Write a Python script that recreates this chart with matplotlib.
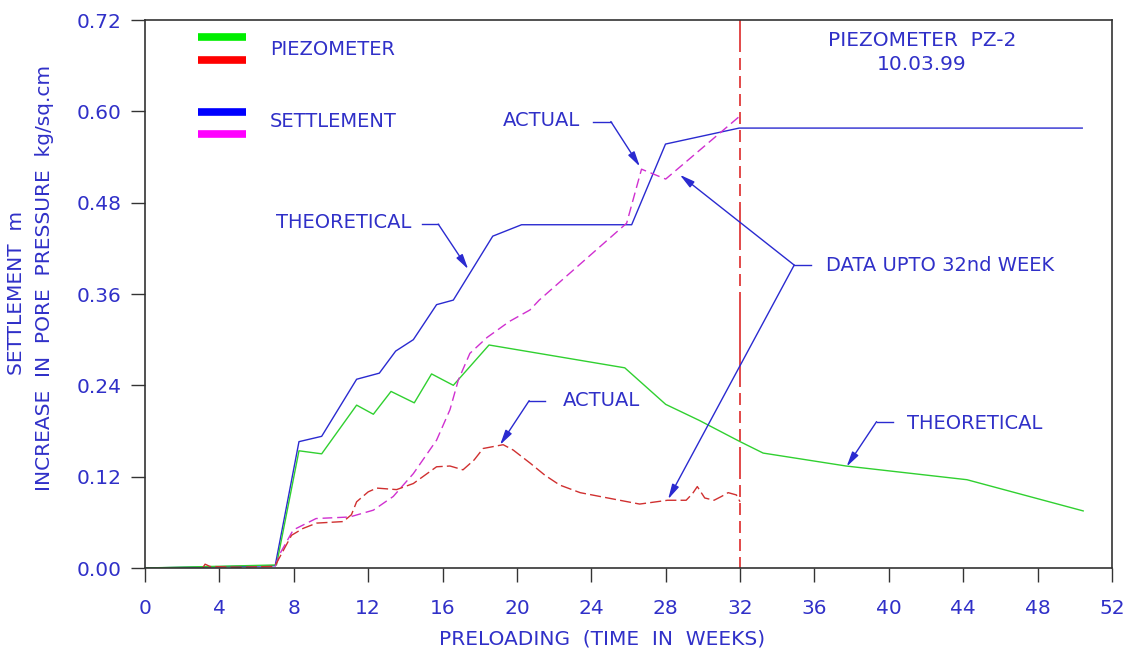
import matplotlib
matplotlib.use("Agg")
import matplotlib.pyplot as plt

# ---------------- data ----------------
theo_settle_wk = [0, 7.0, 8.28, 9.5, 11.38, 12.6, 13.48, 14.43, 15.68, 16.58, 18.7, 20.25, 26.17, 27.99, 31.95, 50.4]
theo_settle_v = [0, 0.003, 0.166, 0.173, 0.248, 0.256, 0.285, 0.300, 0.346, 0.352, 0.436, 0.451, 0.451, 0.557, 0.578, 0.578]

theo_piezo_wk = [0, 7.07, 8.28, 9.5, 11.38, 12.28, 13.23, 14.48, 15.41, 16.58, 18.5, 25.8, 28.0, 29.8, 32.0, 33.24, 37.7, 44.2, 50.45]
theo_piezo_v = [0, 0.004, 0.154, 0.150, 0.214, 0.202, 0.232, 0.217, 0.255, 0.240, 0.293, 0.263, 0.215, 0.194, 0.166, 0.151, 0.134, 0.116, 0.075]

act_settle_wk = [7.0, 7.26, 7.97, 9.2, 11.0, 12.28, 13.35, 14.43, 15.68, 16.4, 16.85, 17.47, 18.4, 19.6, 20.7, 21.2, 25.9, 26.7, 28.0, 31.95]
act_settle_v = [0.002, 0.019, 0.050, 0.065, 0.067, 0.076, 0.094, 0.124, 0.168, 0.208, 0.247, 0.282, 0.303, 0.324, 0.339, 0.352, 0.453, 0.524, 0.511, 0.593]

act_piezo_wk = [3.1, 3.23, 3.5, 5.0, 6.8, 7.0, 7.26, 7.88, 8.5, 9.23, 10.66, 11.1, 11.38, 12.0, 12.46, 13.53,
                14.43, 15.68, 16.4, 17.1, 17.7, 18.18, 19.26, 19.8, 20.7, 21.5, 22.3, 23.4, 24.46, 26.6, 28.1,
                29.1, 29.45, 29.7, 30.1, 30.6, 31.0, 31.36, 31.8, 32.0]
act_piezo_v = [0.0, 0.005, 0.002, 0.001, 0.002, 0.003, 0.015, 0.043, 0.052, 0.059, 0.061, 0.070, 0.087, 0.100, 0.105, 0.103,
               0.111, 0.133, 0.134, 0.129, 0.142, 0.157, 0.162, 0.155, 0.138, 0.122, 0.109, 0.099, 0.094, 0.084, 0.089,
               0.089, 0.098, 0.107, 0.092, 0.089, 0.094, 0.099, 0.096, 0.087]

cutoff_week = 32
x_ticks = list(range(0, 53, 4))
y_ticks = [0.00, 0.12, 0.24, 0.36, 0.48, 0.60, 0.72]

# annotations: (text, text_x, text_y, ha, leader_start, bend, tip)
annotations = [
    ("ACTUAL", 23.39, 0.5875, "right", (24.09, 0.5866), (25.05, 0.5866), (26.61, 0.5275)),
    ("THEORETICAL", 14.34, 0.4541, "right", (14.88, 0.4518), (15.77, 0.4518), (17.38, 0.3926)),
    ("ACTUAL", 22.49, 0.2202, "left", (21.5, 0.2199), (20.66, 0.2199), (19.09, 0.1617)),
    ("THEORETICAL", 40.98, 0.1893, "left", (40.2, 0.1923), (39.34, 0.1923), (37.73, 0.1332)),
]
data_note = ("DATA UPTO 32nd WEEK", 36.6, 0.398)
data_note_bend = (34.91, 0.398)
data_note_end = (35.8, 0.398)
data_note_tips = [(28.76, 0.5166), (28.13, 0.0903)]

# ---------------- style ----------------
plt.rcParams['lines.scale_dashes'] = False
TXT = '#3030c8'
BLUE = '#2a2ad0'
GREEN = '#30d030'
RED = '#d03030'
MAG = '#d030d0'
FS = 14

W, H = 1127, 652
fig = plt.figure(figsize=(W / 100, H / 100), dpi=100)
ax = fig.add_axes([145 / W, 1 - 568 / H, (1112 - 145) / W, (568 - 20) / H])

ax.plot(theo_settle_wk, theo_settle_v, color=BLUE, lw=1.0)
ax.plot(theo_piezo_wk, theo_piezo_v, color=GREEN, lw=1.0)
ax.plot(act_settle_wk, act_settle_v, color=MAG, lw=1.0, dashes=(7, 3.5))
ax.plot(act_piezo_wk, act_piezo_v, color=RED, lw=1.0, dashes=(8, 3))

# vertical cut-off line (CAD style dash pattern, in px converted to pt)
pat_px = [32]
pat_px += [6, 12] * 8 + [6, 48]
pat_px += [6, 12] * 2 + [6, 95]
pat_px += [6, 12] * 4 + [6, 28]
pat_px += [6, 12] * 4 + [6, 200]
ax.plot([cutoff_week, cutoff_week], [0.72, 0.0], color='#dd2a2a', lw=1.2,
        dashes=[p * 0.72 for p in pat_px])

# annotations
for text, tx, ty, ha, p0, p1, tip in annotations:
    ax.text(tx, ty, text, color=TXT, fontsize=FS, ha=ha, va='center')
    ax.plot([p0[0], p1[0]], [p0[1], p1[1]], color=BLUE, lw=1.0)
    ax.annotate('', xy=tip, xytext=p1,
                arrowprops=dict(arrowstyle='-|>,head_length=0.9,head_width=0.22',
                                color=BLUE, lw=1.0, shrinkA=0, shrinkB=0))

ax.text(data_note[1], data_note[2], data_note[0], color=TXT, fontsize=FS, ha='left', va='center')
ax.plot([data_note_bend[0], data_note_end[0]], [data_note_bend[1], data_note_end[1]], color=BLUE, lw=1.0)
for tip in data_note_tips:
    ax.annotate('', xy=tip, xytext=data_note_bend,
                arrowprops=dict(arrowstyle='-|>,head_length=0.9,head_width=0.22',
                                color=BLUE, lw=1.0, shrinkA=0, shrinkB=0))

# legend (drawn manually)
leg = [(0.9684, '#00ee00'), (0.927, '#ff0000'), (0.8327, '#0000ff'), (0.792, '#ff00ff')]
for yy, c in leg:
    ax.plot([0.0548, 0.1044], [yy, yy], transform=ax.transAxes, color=c, lw=5.5, solid_capstyle='butt')
ax.text(0.1293, 0.947, 'PIEZOMETER', transform=ax.transAxes, color=TXT, fontsize=FS, va='center')
ax.text(0.1293, 0.8144, 'SETTLEMENT', transform=ax.transAxes, color=TXT, fontsize=FS, va='center')

ax.text(0.8035, 0.9617, 'PIEZOMETER  PZ-2', transform=ax.transAxes, color=TXT, fontsize=14.5,
        ha='center', va='center')
ax.text(0.8035, 0.9197, '10.03.99', transform=ax.transAxes, color=TXT, fontsize=14.5,
        ha='center', va='center')

# axes
ax.set_xlim(0, 52)
ax.set_ylim(0, 0.72)
ax.set_xticks(x_ticks)
ax.set_xticklabels([str(t) for t in x_ticks])
ax.set_yticks(y_ticks)
ax.set_yticklabels([f"{t:.2f}" for t in y_ticks])
ax.tick_params(axis='x', direction='out', length=10, width=1.0, color='#333333',
               labelsize=14.5, labelcolor=TXT, pad=12)
ax.tick_params(axis='y', direction='out', length=10, width=1.0, color='#333333',
               labelsize=14.5, labelcolor=TXT, pad=7)
for s in ax.spines.values():
    s.set_color('#333333')
    s.set_linewidth(1.2)

fig.text(320 / W + 0.25, 1 - 639 / H, 'PRELOADING  (TIME  IN  WEEKS)', color=TXT, fontsize=14.5,
         ha='center', va='center')
fig.text(17 / W, 1 - 293 / H, 'SETTLEMENT  m', color=TXT, fontsize=14.5, rotation=90,
         ha='center', va='center')
fig.text(45 / W, 1 - 278 / H, 'INCREASE  IN  PORE  PRESSURE  kg/sq.cm', color=TXT, fontsize=14.5,
         rotation=90, ha='center', va='center')

fig.savefig('out.png', dpi=100)
